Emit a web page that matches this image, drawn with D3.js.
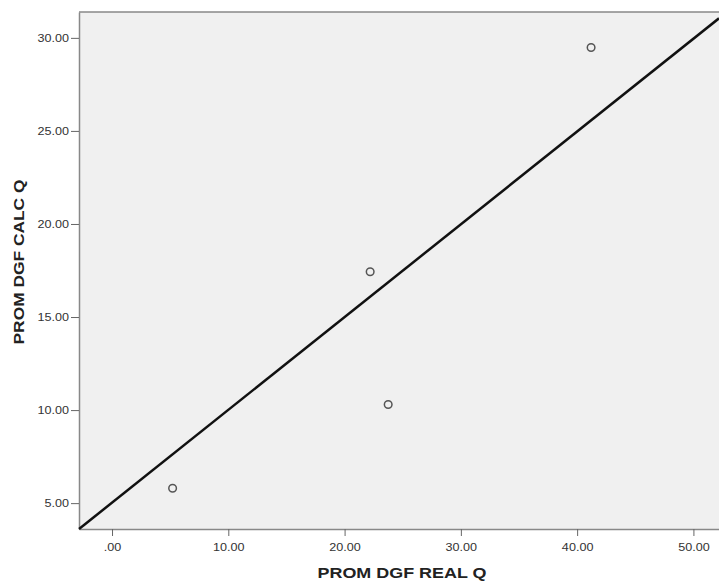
<!DOCTYPE html>
<html>
<head>
<meta charset="utf-8">
<script src="https://cdn.jsdelivr.net/npm/d3@7"></script>
<style>
  body { margin: 0; background: #fff; }
  .tick text { font-family: "Liberation Sans", Arial, sans-serif; font-size: 10.5px; fill: #333; }
</style>
</head>
<body>
<div id="chart"></div>
<script>
// data
var realQ = [5.21, 22.2, 23.75, 41.2];
var calcQ = [5.80, 17.43, 10.30, 29.48];
// reference line, as two points in data units
var lineX = [-2.84, 52.2];
var lineY = [3.61, 31.05];
var xTicks = [0, 10, 20, 30, 40, 50];
var yTicks = [5, 10, 15, 20, 25, 30];

var width = 719, height = 585;
var margin = {top: 12, right: 0, bottom: 56, left: 79};
var stretch = 1.2; // the original picture is a bit wider than tall

var svg = d3.select("#chart")
  .append("svg")
    .attr("width", width)
    .attr("height", height);

var x = d3.scaleLinear()
  .domain([-2.84, 52.2])
  .range([margin.left, width - margin.right]);

var y = d3.scaleLinear()
  .domain([3.61, 31.39])
  .range([height - margin.bottom, margin.top]);

///////////////////////////////////////// plot background
svg.append("rect")
  .attr("x", margin.left)
  .attr("y", margin.top)
  .attr("width", width - margin.left - margin.right)
  .attr("height", height - margin.top - margin.bottom)
  .attr("fill", "#f0f0f0")
  .attr("stroke", "none");

// top frame line
svg.append("line")
  .attr("x1", margin.left).attr("x2", width)
  .attr("y1", margin.top).attr("y2", margin.top)
  .attr("stroke", "#888").attr("stroke-width", 1.5);

///////////////////////////////////////// axes
var fmt = function(d) { return d === 0 ? ".00" : d3.format(".2f")(d); };

var xAxis = svg.append("g")
  .attr("transform", "translate(0," + (height - margin.bottom) + ")")
  .call(d3.axisBottom(x).tickValues(xTicks).tickFormat(fmt).tickSize(7).tickSizeOuter(0));

var yAxis = svg.append("g")
  .attr("transform", "translate(" + margin.left + ",0)")
  .call(d3.axisLeft(y).tickValues(yTicks).tickFormat(fmt).tickSize(8).tickSizeOuter(0));

[xAxis, yAxis].forEach(function(g) {
  g.select(".domain").attr("stroke", "#888").attr("stroke-width", 1.5);
  g.selectAll(".tick line").attr("stroke", "#666");
  g.selectAll(".tick text").each(function() {
    var t = d3.select(this);
    t.attr("textLength", this.getComputedTextLength() * stretch)
     .attr("lengthAdjust", "spacingAndGlyphs");
  });
});
xAxis.selectAll(".tick text").attr("dy", "1.1em");
yAxis.selectAll(".tick text").attr("x", -10);

///////////////////////////////////////// reference line
var ref = lineX.map(function(v, i) { return {x: v, y: lineY[i]}; });
svg.append("path")
  .datum(ref)
  .attr("fill", "none")
  .attr("stroke", "#111")
  .attr("stroke-width", 2.5)
  .attr("d", d3.line()
    .x(function(d) { return x(d.x) })
    .y(function(d) { return y(d.y) })
  );

///////////////////////////////////////// points
svg.selectAll(".pt")
  .data(realQ)
  .enter()
  .append("circle")
    .attr("class", "pt")
    .attr("cx", function(d) { return x(d) })
    .attr("cy", function(d, i) { return y(calcQ[i]) })
    .attr("r", 3.8)
    .attr("fill", "#f0f0f0")
    .attr("stroke", "#555")
    .attr("stroke-width", 1.5);

///////////////////////////////////////// axis titles
svg.append("text")
  .attr("x", 402)
  .attr("y", 578)
  .attr("text-anchor", "middle")
  .attr("font-family", "Liberation Sans, Arial, sans-serif")
  .attr("font-weight", "bold")
  .attr("font-size", "14.5px")
  .attr("textLength", 169)
  .attr("lengthAdjust", "spacingAndGlyphs")
  .attr("fill", "#222")
  .text("PROM DGF REAL Q");

svg.append("text")
  .attr("transform", "translate(24,262) rotate(-90)")
  .attr("text-anchor", "middle")
  .attr("font-family", "Liberation Sans, Arial, sans-serif")
  .attr("font-weight", "bold")
  .attr("font-size", "15px")
  .attr("textLength", 165)
  .attr("lengthAdjust", "spacingAndGlyphs")
  .attr("fill", "#222")
  .text("PROM DGF CALC Q");
</script>
</body>
</html>
